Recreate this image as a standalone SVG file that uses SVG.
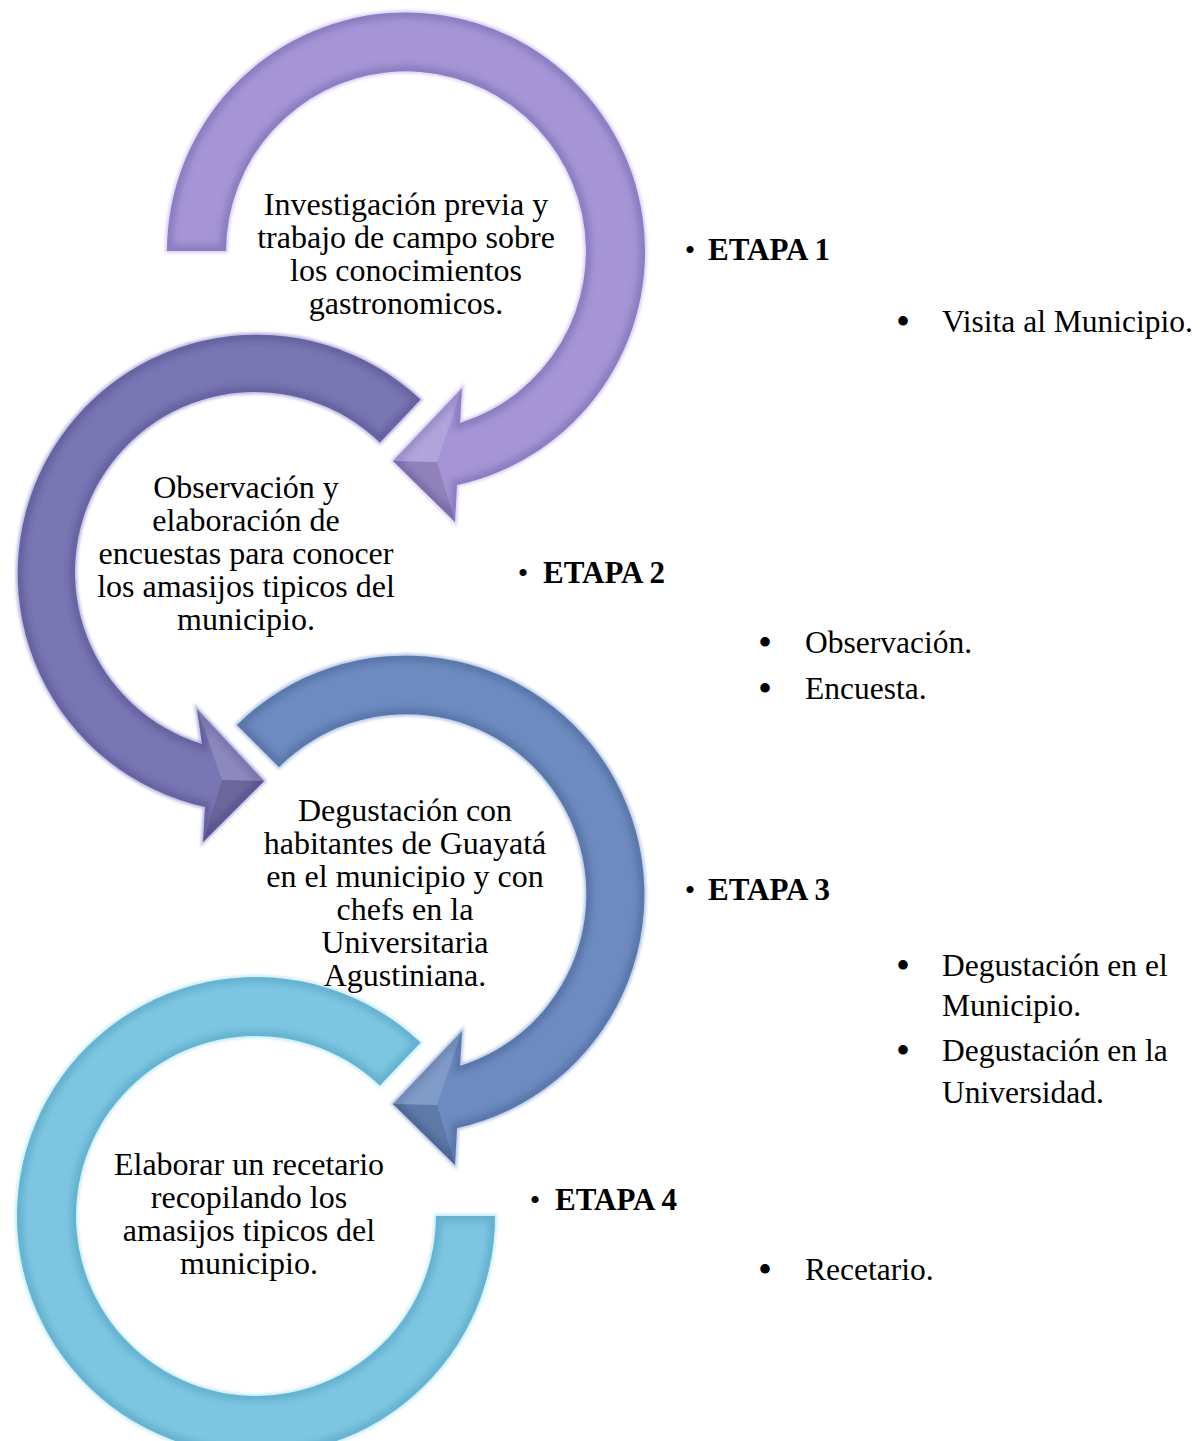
<svg xmlns="http://www.w3.org/2000/svg" xmlns:xlink="http://www.w3.org/1999/xlink" width="1200" height="1441" viewBox="0 0 1200 1441">
  <style>
    .t { font-family: "Liberation Serif", "Times New Roman", serif; fill: #000; }
    .c { font-size: 32px; text-anchor: middle; }
    .h { font-size: 31px; font-weight: bold; }
    .l { font-size: 31.5px; }
    .sb { font-size: 30px; text-anchor: middle; }
    .b { font-size: 40px; text-anchor: middle; }
    .halo { fill: none; stroke-width: 4; filter: url(#soft); }
    .shade { fill: none; stroke-width: 12; stroke-opacity: 0.35; filter: url(#soft2); }
    .lite { fill: #fff; fill-opacity: 0.14; }
    .dark { fill: #000; fill-opacity: 0.12; }
  </style>
  <defs>
    <filter id="soft" x="-10%" y="-10%" width="120%" height="120%">
      <feGaussianBlur stdDeviation="1.6"/>
    </filter>
    <filter id="soft2" x="-10%" y="-10%" width="120%" height="120%">
      <feGaussianBlur stdDeviation="3"/>
    </filter>
    <!-- curved arrow outlines: outer arc, arrowhead, inner arc -->
    <path id="ring1" d="M167,251 A239,239 0 1 1 457,485 L455,522 L393,461 L462,388 L460,423 A180,180 0 1 0 226,251 Z"/>
    <path id="ring2" d="M420.5,399.6 A239,239 0 1 0 205,807 L203,842 L264,781 L197,709 L202,744 A180,180 0 1 1 379.9,442.4 Z"/>
    <path id="ring3" d="M237,725 A239,239 0 1 1 457,1128 L455,1165 L393,1104 L462,1031 L460,1066 A180,180 0 1 0 279,767 Z"/>
    <path id="ring4" d="M420.5,1042.6 A239,239 0 1 0 495,1216 L436,1216 A180,180 0 1 1 379.9,1085.4 Z"/>
    <clipPath id="clip1"><use xlink:href="#ring1"/></clipPath>
    <clipPath id="clip2"><use xlink:href="#ring2"/></clipPath>
    <clipPath id="clip3"><use xlink:href="#ring3"/></clipPath>
    <clipPath id="clip4"><use xlink:href="#ring4"/></clipPath>
  </defs>

  <rect width="1200" height="1441" fill="#fff"/>

  <!-- stage 1: lavender arrow -->
  <g id="etapa1-arrow">
    <use xlink:href="#ring1" class="halo" stroke="#d9cef5"/>
    <use xlink:href="#ring1" fill="#a595d6"/>
    <use xlink:href="#ring1" class="shade" stroke="#5d4f99" clip-path="url(#clip1)"/>
    <polygon class="lite" points="462,388 393,461 437,462"/>
    <polygon class="dark" points="393,461 455,522 437,462"/>
  </g>

  <!-- stage 2: slate purple arrow -->
  <g id="etapa2-arrow">
    <use xlink:href="#ring2" class="halo" stroke="#b9b5e0"/>
    <use xlink:href="#ring2" fill="#7a76b4"/>
    <use xlink:href="#ring2" class="shade" stroke="#3e3a78" clip-path="url(#clip2)"/>
    <polygon class="lite" points="197,709 264,781 222,780"/>
    <polygon class="dark" points="264,781 203,842 222,780"/>
  </g>

  <!-- stage 3: steel blue arrow -->
  <g id="etapa3-arrow">
    <use xlink:href="#ring3" class="halo" stroke="#b3c6e6"/>
    <use xlink:href="#ring3" fill="#6d8bc0"/>
    <use xlink:href="#ring3" class="shade" stroke="#34507f" clip-path="url(#clip3)"/>
    <polygon class="lite" points="462,1031 393,1104 437,1105"/>
    <polygon class="dark" points="393,1104 455,1165 437,1105"/>
  </g>

  <!-- stage 4: sky blue arc -->
  <g id="etapa4-arrow">
    <use xlink:href="#ring4" class="halo" stroke="#c4ecf8"/>
    <use xlink:href="#ring4" fill="#7cc6e2"/>
    <use xlink:href="#ring4" class="shade" stroke="#3f8bb0" clip-path="url(#clip4)"/>
  </g>

  <!-- texts inside the arrows -->
  <g id="etapa1-text" class="t c">
    <text x="406" y="215">Investigación previa y</text>
    <text x="406" y="248">trabajo de campo sobre</text>
    <text x="406" y="281">los conocimientos</text>
    <text x="406" y="314">gastronomicos.</text>
  </g>
  <g id="etapa2-text" class="t c">
    <text x="246" y="498">Observación y</text>
    <text x="246" y="531">elaboración de</text>
    <text x="246" y="564">encuestas para conocer</text>
    <text x="246" y="597">los amasijos tipicos del</text>
    <text x="246" y="630">municipio.</text>
  </g>
  <g id="etapa3-text" class="t c">
    <text x="405" y="821">Degustación con</text>
    <text x="405" y="854">habitantes de Guayatá</text>
    <text x="405" y="887">en el municipio y con</text>
    <text x="405" y="920">chefs en la</text>
    <text x="405" y="953">Universitaria</text>
    <text x="405" y="986">Agustiniana.</text>
  </g>
  <g id="etapa4-text" class="t c">
    <text x="249" y="1175">Elaborar un recetario</text>
    <text x="249" y="1208">recopilando los</text>
    <text x="249" y="1241">amasijos tipicos del</text>
    <text x="249" y="1274">municipio.</text>
  </g>

  <!-- stage headings and details -->
  <g id="etapa1-label" class="t">
    <text class="sb" x="690" y="260">•</text>
    <text class="h" x="708" y="260">ETAPA 1</text>
    <text class="b" x="903" y="335">•</text>
    <text class="l" x="942" y="332">Visita al Municipio.</text>
  </g>
  <g id="etapa2-label" class="t">
    <text class="sb" x="523" y="583">•</text>
    <text class="h" x="543" y="583">ETAPA 2</text>
    <text class="b" x="765" y="656">•</text>
    <text class="l" x="805" y="653">Observación.</text>
    <text class="b" x="765" y="702">•</text>
    <text class="l" x="805" y="699">Encuesta.</text>
  </g>
  <g id="etapa3-label" class="t">
    <text class="sb" x="690" y="900">•</text>
    <text class="h" x="708" y="900">ETAPA 3</text>
    <text class="b" x="903" y="979">•</text>
    <text class="l" x="942" y="976">Degustación en el</text>
    <text class="l" x="942" y="1016">Municipio.</text>
    <text class="b" x="903" y="1064">•</text>
    <text class="l" x="942" y="1061">Degustación en la</text>
    <text class="l" x="942" y="1103">Universidad.</text>
  </g>
  <g id="etapa4-label" class="t">
    <text class="sb" x="535" y="1210">•</text>
    <text class="h" x="555" y="1210">ETAPA 4</text>
    <text class="b" x="765" y="1283">•</text>
    <text class="l" x="805" y="1280">Recetario.</text>
  </g>
</svg>
